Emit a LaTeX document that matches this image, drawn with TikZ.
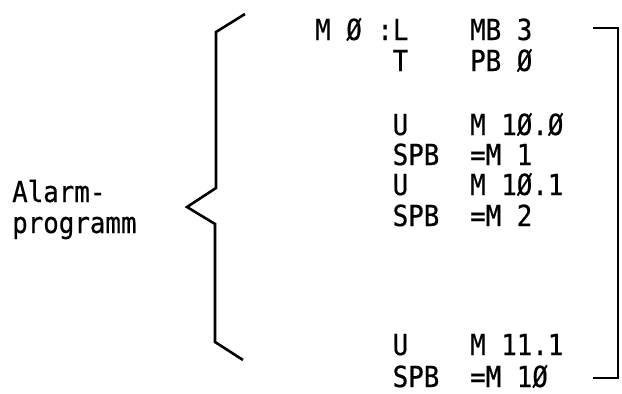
\documentclass[tikz,border=0pt]{standalone}
\usepackage{fontspec}
\setmonofont[FakeStretch=0.89, FakeBold=0.6]{DejaVu Sans Mono}
\tikzset{
  listing/.style={anchor=base west, inner sep=0pt, font=\ttfamily\fontsize{29pt}{31pt}\selectfont},
  bracketline/.style={line width=2.6pt}
}
\begin{document}
\begin{tikzpicture}[x=1pt, y=-1pt]
        \useasboundingbox (0,0) rectangle (622,394);

        \node[listing] (alarm) at (12,202) {Alarm-};
        \node[listing] (prog) at (12,233) {programm};

        \draw[bracketline] (245,14) -- (216,32) -- (216,188) -- (187,207)
              -- (215,224) -- (215,342) -- (243,360);

        \node[listing] (l1) at (315,40) {M Ø :L};
        \node[listing] (o1) at (470,40) {MB 3};
        \node[listing] (l2) at (392.5,71) {T};
        \node[listing] (o2) at (470,71) {PB Ø};

        \node[listing] (l3) at (392.5,135) {U};
        \node[listing] (o3) at (470,135) {M 1Ø.Ø};
        \node[listing] (l4) at (392.5,165) {SPB};
        \node[listing] (o4) at (470,165) {=M 1};
        \node[listing] (l5) at (392.5,195) {U};
        \node[listing] (o5) at (470,195) {M 1Ø.1};
        \node[listing] (l6) at (392.5,226) {SPB};
        \node[listing] (o6) at (470,226) {=M 2};

        \node[listing] (l7) at (392.5,355) {U};
        \node[listing] (o7) at (470,355) {M 11.1};
        \node[listing] (l8) at (392.5,387) {SPB};
        \node[listing] (o8) at (470,387) {=M 1Ø};

        \draw[bracketline] (593,28) -- (618,28) -- (618,378) -- (593,378);
\end{tikzpicture}
\end{document}
